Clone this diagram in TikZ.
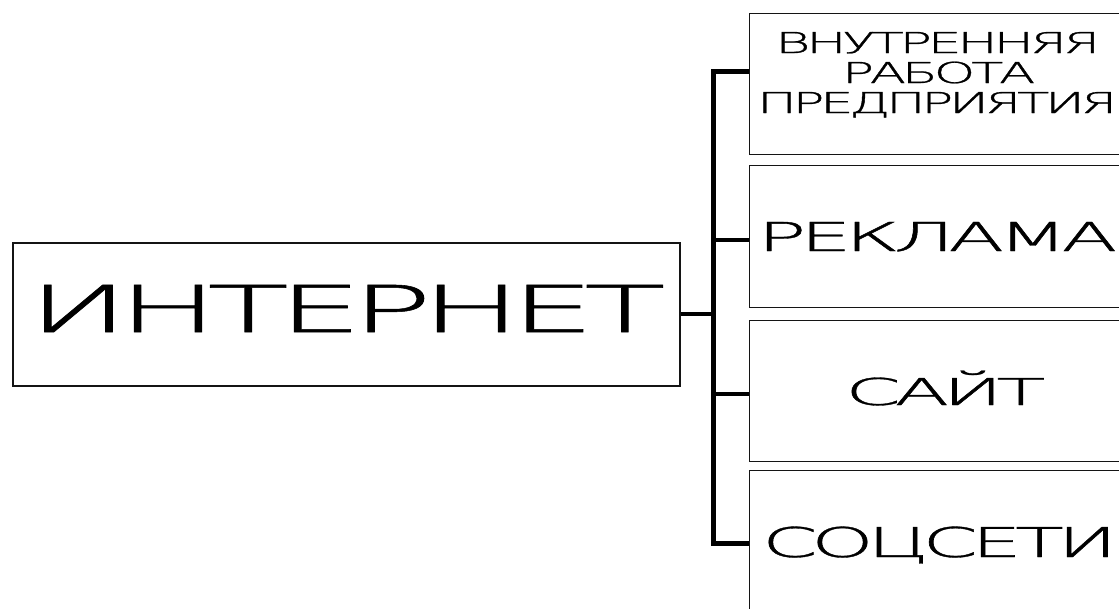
\documentclass[tikz,border=0pt]{standalone}
\usepackage{fontspec}
\setmainfont[LetterSpace=-8,FakeBold=0.8]{DejaVu Sans ExtraLight}
\usepackage{graphicx}
\usepackage{tikz}
\usetikzlibrary{positioning,calc}
\definecolor{boxline}{RGB}{20, 20, 20}
\newcommand{\widetxt}[3]{\fontsize{#2}{#2}\selectfont\resizebox{#1}{\height}{#3}}

\begin{document}
\begin{tikzpicture}[x=1pt,y=-1pt,
    box/.style={draw=boxline,line width=1.4pt,rectangle,inner sep=0pt,anchor=north west},
    lbl/.style={anchor=base west,inner sep=0pt},
    bus/.style={line width=5pt,line join=miter},
    branch/.style={line width=4pt}]
    \useasboundingbox (0,0) rectangle (1119,608);
    \clip (0,0) rectangle (1119,608);
    \node[box,line width=1.8pt,minimum width=667pt,minimum height=143pt] (inet) at (12,242) {};
    \node[box,minimum width=381pt,minimum height=141pt] (rabota) at (749,13) {};
    \node[box,minimum width=381pt,minimum height=142pt] (reklama) at (749,165) {};
    \node[box,minimum width=381pt,minimum height=141pt] (sait) at (749,320) {};
    \node[box,minimum width=381pt,minimum height=145pt] (soc) at (749,470) {};
    \node[lbl] (tinet) at (28,332) {\widetxt{637pt}{64.5pt}{ИНТЕРНЕТ}};
    \node[lbl] (t1) at (775,53) {\widetxt{325pt}{28.8pt}{ВНУТРЕННЯЯ}};
    \node[lbl] (t2) at (842,83) {\widetxt{193pt}{28.8pt}{РАБОТА}};
    \node[lbl] (t3) at (757,113) {\widetxt{360pt}{28.8pt}{ПРЕДПРИЯТИЯ}};
    \node[lbl] (treklama) at (757,251) {\widetxt{360pt}{39.8pt}{РЕКЛАМА}};
    \node[lbl] (tsait) at (845,405) {\widetxt{200pt}{37pt}{САЙТ}};
    \node[lbl] (tsoc) at (762,557) {\widetxt{355pt}{41pt}{СОЦСЕТИ}};
    \coordinate (bus) at (713,0);
    \draw[bus] ([yshift=12.5pt]rabota.west) -| (bus |- soc.west) -- (soc.west);
    \draw[branch] (inet.east) -- (inet.east -| bus);
    \draw[branch] ([yshift=-3pt]reklama.west -| bus) -- ([yshift=-3pt]reklama.west);
    \draw[branch] ([yshift=-2.5pt]sait.west -| bus) -- ([yshift=-2.5pt]sait.west);
\end{tikzpicture}
\end{document}
